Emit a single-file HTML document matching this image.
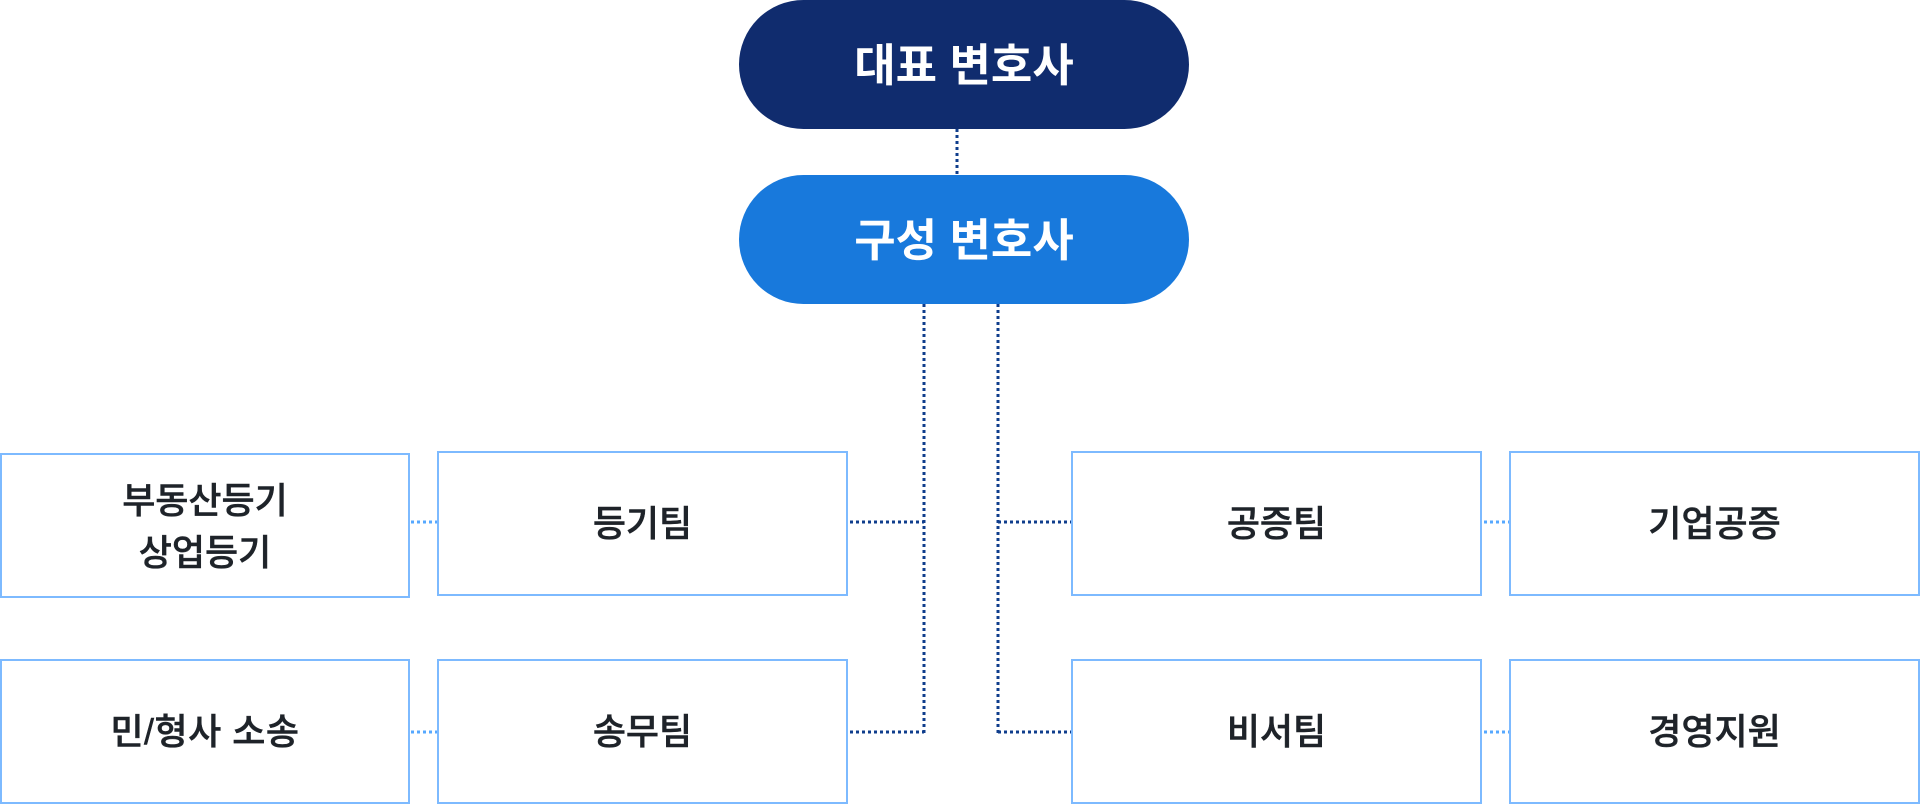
<!DOCTYPE html>
<html lang="ko">
<head>
<meta charset="utf-8">
<style>
html,body{margin:0;padding:0;background:#fff;}
body{width:1920px;height:804px;position:relative;overflow:hidden;font-family:"Liberation Sans","Noto Sans CJK KR",sans-serif;}
.pill{position:absolute;box-sizing:border-box;left:739px;width:450px;height:129px;border-radius:64.5px;color:#fff;font-size:45px;font-weight:700;display:flex;align-items:center;justify-content:center;padding:0 0 7px 0;}
.box{position:absolute;box-sizing:border-box;width:411px;height:145px;border:2px solid #7dbaff;background:#fff;color:#1e2329;font-size:36px;font-weight:500;-webkit-text-stroke:0.5px #1e2329;line-height:52px;display:flex;align-items:center;justify-content:center;text-align:center;padding-top:1px;}
svg{position:absolute;left:0;top:0;}
</style>
</head>
<body>
<svg width="1920" height="804" viewBox="0 0 1920 804" fill="none">
  <g stroke="#0f3d8c" stroke-width="3" stroke-dasharray="3 3">
    <path d="M957 129V175"/>
    <path d="M924 304V733"/>
    <path d="M998 304V733"/>
    <path d="M850 522H924"/>
    <path d="M850 732H924"/>
    <path d="M998 522H1072"/>
    <path d="M998 732H1072"/>
  </g>
  <g stroke="#56a8ff" stroke-width="3" stroke-dasharray="3 3">
    <path d="M411 522H438"/>
    <path d="M411 732H438"/>
    <path d="M1484 522H1510"/>
    <path d="M1484 732H1510"/>
  </g>
</svg>
<div class="pill" style="top:0;background:#102c6e;">대표 변호사</div>
<div class="pill" style="top:175px;background:#1879dc;">구성 변호사</div>

<div class="box" style="left:0;width:410px;top:453px;padding-top:2px;">부동산등기<br>상업등기</div>
<div class="box" style="left:437px;top:451px;">등기팀</div>
<div class="box" style="left:1071px;top:451px;">공증팀</div>
<div class="box" style="left:1509px;top:451px;">기업공증</div>

<div class="box" style="left:0;width:410px;top:659px;letter-spacing:0.5px;">민/형사 소송</div>
<div class="box" style="left:437px;top:659px;">송무팀</div>
<div class="box" style="left:1071px;top:659px;">비서팀</div>
<div class="box" style="left:1509px;top:659px;">경영지원</div>
</body>
</html>
